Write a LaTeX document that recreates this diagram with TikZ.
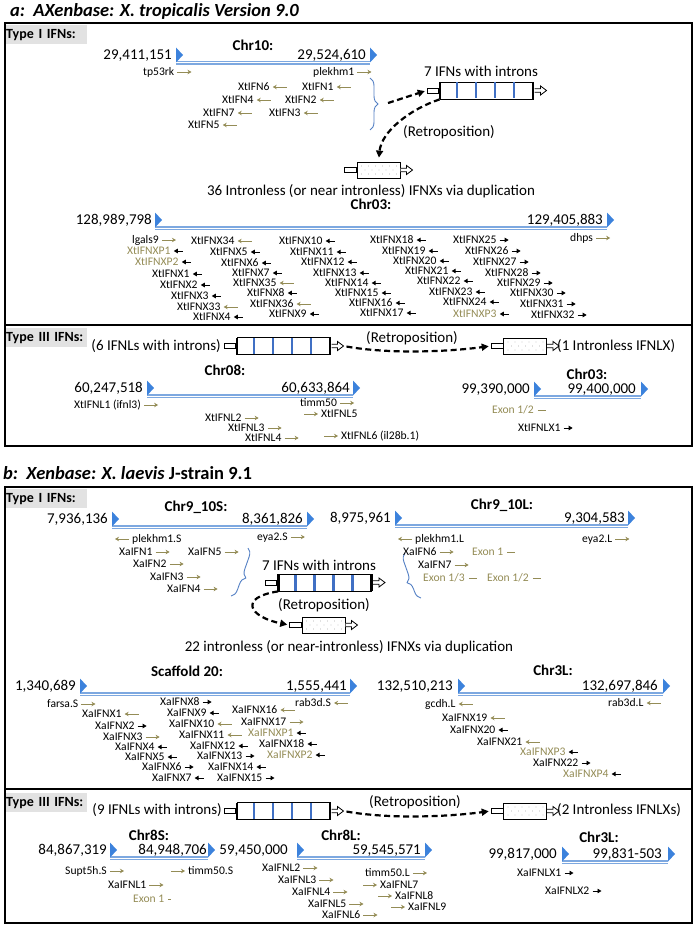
\documentclass[tikz,border=0pt]{standalone}
\usepackage{fontspec}
\setmainfont{Carlito}
\usetikzlibrary{arrows.meta,decorations.pathreplacing}

\definecolor{triblue}{RGB}{60,130,220}
\definecolor{chrblue}{RGB}{125,168,224}
\definecolor{olivegene}{RGB}{148,140,86}
\definecolor{stripeblue}{RGB}{64,112,196}
\definecolor{braceblue}{RGB}{84,128,196}
\definecolor{labelgray}{RGB}{226,226,226}

\tikzset{
  chrtri/.pic={\fill[triblue] (0,-7.5) -- (7,0) -- (0,7.5) -- cycle;},
  intronbox/.pic={
    \node[draw,line width=0.8pt,fill=white,minimum width=93pt,minimum height=17pt,inner sep=0pt] (-box) at (0,0) {};
    \foreach \s in {-29.5,-10.5,8.5,27.5} \draw[stripeblue,line width=2.2pt] (\s,-8) -- (\s,8);
    \draw[line width=2.5pt] (-46.5,-8.5) -- (-46.5,8.5) (46.5,-8.5) -- (46.5,8.5);
    \node[draw,line width=0.8pt,fill=white,minimum width=11pt,minimum height=5pt,inner sep=0pt,anchor=east] (-prom) at (-48,0) {};
    \draw[line width=0.8pt,fill=white] (48,-1.8) -- (54,-1.8) -- (54,-4.5) -- (60,0) -- (54,4.5) -- (54,1.8) -- (48,1.8);
    \coordinate (-tip) at (60,0);
  },
  plainbox/.pic={
    \node[draw,line width=0.8pt,fill=white,minimum width=43pt,minimum height=16pt,inner sep=0pt] (-box) at (0,0) {};
    \foreach \i in {-17,-10,...,18} \foreach \j in {-4,4} \fill[gray] (\i,\j) circle (0.45pt);
    \foreach \i in {-13.5,-6.5,...,15} \fill[gray] (\i,0) circle (0.45pt);
    \node[draw,line width=0.8pt,fill=white,minimum width=12pt,minimum height=5pt,inner sep=0pt,anchor=east] (-prom) at (-21.5,0) {};
    \draw[line width=0.8pt,fill=white] (22,-1.8) -- (28,-1.8) -- (28,-4.5) -- (34,0) -- (28,4.5) -- (28,1.8) -- (22,1.8);
    \coordinate (-tip) at (34,0);
  }
}

\begin{document}
\begin{tikzpicture}
[x=1pt,y=-1pt,
 gene/.style={font=\fontsize{11.6}{12}\selectfont,inner sep=0pt,anchor=west,text height=7.6pt,text depth=0pt},
 num/.style={font=\fontsize{15}{16}\selectfont,inner sep=0pt,anchor=east,text height=9.5pt,text depth=0pt},
 chrname/.style={font=\fontsize{15}{16}\selectfont\bfseries,inner sep=0pt,text height=9.5pt,text depth=0pt},
 note/.style={font=\fontsize{15}{16}\selectfont,inner sep=0pt,text height=9.5pt,text depth=2.5pt},
 typelbl/.style={fill=labelgray,font=\fontsize{14}{15}\selectfont\bfseries,anchor=north west,minimum height=19pt,text width=80pt,inner xsep=1pt,inner ysep=0pt},
 titletxt/.style={font=\fontsize{18.5}{20}\selectfont\bfseries\itshape,inner sep=0pt,anchor=west},
 chrline/.style={draw=chrblue,line width=1.1pt,double=white,double distance=1pt},
 oleft/.style={draw=olivegene,line width=0.9pt,{Stealth[length=4pt,width=4.5pt]}-,shorten <=3pt},
 oright/.style={draw=olivegene,line width=0.9pt,-{Stealth[length=4pt,width=4.5pt]},shorten <=3pt},
 bleft/.style={draw=black,line width=0.9pt,{Triangle[length=4pt,width=4.5pt]}-,shorten <=3pt,shorten >=5pt},
 bright/.style={draw=black,line width=0.9pt,-{Triangle[length=4pt,width=4.5pt]},shorten <=3pt,shorten >=5pt},
 odash/.style={draw=olivegene,line width=1pt,shorten <=4pt,shorten >=5pt},
 retro/.style={line width=2.2pt,dash pattern=on 6pt off 3.5pt,-{Triangle[length=7pt,width=7pt]}},
 bluebrace/.style={draw=braceblue,line width=0.9pt,decorate,decoration={brace,amplitude=8pt}},
 boxline/.style={line width=2pt}]
\useasboundingbox (0,0) rectangle (697,928);

% titles and type labels
\node[titletxt] (titleA) at (10,11) {a:\ \ AXenbase: X. tropicalis Version 9.0};
\node[titletxt] (titleB) at (3,473) {b:\ \ Xenbase: X. laevis {\upshape J-strain 9.1}};
\node[typelbl] (t1a) at (5,25) {Type I IFNs:};
\node[typelbl] (t3a) at (5,328) {Type III IFNs:};
\node[typelbl] (t1b) at (5,489) {Type I IFNs:};
\node[typelbl] (t3b) at (5,793) {Type III IFNs:};

% chromosomes
\foreach \c/\xl/\xr/\y in {c10/176/370/55, c03/155/607/220, c08/147/353/388, c03b/534/641/389,
  c910s/112/307/519, c910l/395/628/518, sc20/80/350/686, c3l/458/663/686,
  c8s/110/208/850, c8l/297/425/850, c3lb/562/668/854}{
  \coordinate (\c-a) at (\xl,\y+8);
  \coordinate (\c-b) at (\xr,\y+8);
  \draw[chrline] (\c-a) -- (\c-b);
  \pic at (\xl,\y) {chrtri};
  \pic at (\xr,\y) {chrtri};
}
\node[chrname] (n10) at (253,46) {Chr10:};
\node[num] (c10-lo) at (172,55) {29,411,151};
\node[num] (c10-hi) at (366,55) {29,524,610};
\node[chrname] (n03) at (371,205) {Chr03:};
\node[num] (c03-lo) at (152,220) {128,989,798};
\node[num] (c03-hi) at (603,220) {129,405,883};
\node[chrname] (n08) at (225,371) {Chr08:};
\node[num] (c08-lo) at (143,388) {60,247,518};
\node[num] (c08-hi) at (350,388) {60,633,864};
\node[chrname] (n03b) at (587,375) {Chr03:};
\node[num] (c03b-lo) at (530,389) {99,390,000};
\node[num] (c03b-hi) at (636,389) {99,400,000};
\node[chrname] (n910s) at (196,507) {Chr9\_10S:};
\node[num] (c910s-lo) at (108,519) {7,936,136};
\node[num] (c910s-hi) at (303,519) {8,361,826};
\node[chrname] (n910l) at (502,505) {Chr9\_10L:};
\node[num] (c910l-lo) at (391,518) {8,975,961};
\node[num] (c910l-hi) at (625,518) {9,304,583};
\node[chrname] (nsc20) at (187,672) {Scaffold 20:};
\node[num] (sc20-lo) at (76,686) {1,340,689};
\node[num] (sc20-hi) at (347,686) {1,555,441};
\node[chrname] (n3l) at (553,671) {Chr3L:};
\node[num] (c3l-lo) at (453,686) {132,510,213};
\node[num] (c3l-hi) at (658,686) {132,697,846};
\node[chrname] (n8s) at (149,836) {Chr8S:};
\node[num] (c8s-lo) at (107,850) {84,867,319};
\node[num] (c8s-hi) at (207,850) {84,948,706};
\node[chrname] (n8l) at (341,836) {Chr8L:};
\node[num] (c8l-lo) at (288,850) {59,450,000};
\node[num] (c8l-hi) at (421,850) {59,545,571};
\node[chrname] (n3lb) at (599,838) {Chr3L:};
\node[num] (c3lb-lo) at (557,854) {99,817,000};
\node[num] (c3lb-hi) at (662,854) {99,831-503};

% gene boxes
\pic (gA) at (486.5,90.5) {intronbox};
\pic (iA) at (378.5,170) {plainbox};
\pic (gB) at (283.5,346) {intronbox};
\pic (iB) at (525,346) {plainbox};
\pic (gC) at (325,582.5) {intronbox};
\pic (iC) at (323.5,625) {plainbox};
\pic (gD) at (283.5,811) {intronbox};
\pic (iD) at (525,811) {plainbox};

\node[note] (n7a) at (481,73) {7 IFNs with introns};
\node[note] (retA) at (449,133) {(Retroposition)};
\node[note] (dupA) at (371,192) {36 Intronless (or near intronless) IFNXs via duplication};
\node[note,anchor=east] (l6a) at (221,347) {(6 IFNLs with introns)};
\node[note] (retB) at (412,339) {(Retroposition)};
\node[note,anchor=west] (l1a) at (557,347) {(1 Intronless IFNLX)};
\node[note] (n7b) at (319,567) {7 IFNs with introns};
\node[note] (retC) at (324,606) {(Retroposition)};
\node[note] (dupB) at (349,648) {22 intronless (or near-intronless) IFNXs via duplication};
\node[note,anchor=east] (l9b) at (222,811) {(9 IFNLs with introns)};
\node[note] (retD) at (415,803) {(Retroposition)};
\node[note,anchor=west] (l2b) at (557,811) {(2 Intronless IFNLXs)};

% braces and retroposition arrows
\coordinate (btA) at (370,78);
\coordinate (bbA) at (370,130);
\coordinate (bmA) at (388,103);
\draw[bluebrace] (btA) -- (bbA);
\coordinate (btC) at (248,548);
\coordinate (bbC) at (231,596);
\draw[bluebrace,decoration={aspect=0.57}] (btC) -- (bbC);
\coordinate (btL) at (405,553);
\coordinate (bbL) at (421,598);
\draw[bluebrace,decoration={aspect=0.4}] (bbL) -- (btL);
\draw[retro,shorten >=2pt] (bmA) -- (gA-prom.west);
\draw[retro,shorten >=4pt] (gA-box.south west) .. controls +(-30,10) and +(3,-30) .. (iA-box.north);
\draw[retro,shorten <=3pt,shorten >=2pt] (gB-tip) .. controls +(45,8) and +(-45,6) .. (iB-prom.west);
\draw[retro,shorten >=2pt] (gC-box.south west) .. controls +(-40,6) and +(-40,-8) .. (iC-prom.west);
\draw[retro,shorten <=3pt,shorten >=2pt] (gD-tip) .. controls +(45,8) and +(-45,6) .. (iD-prom.west);

% genes with the arrow after the name
\foreach \g/\x/\y/\tc/\ac in {
  tp53rk/143/72/black/oright, XtIFN6/238/87/black/oleft, XtIFN1/302/87/black/oleft,
  XtIFN4/222/100/black/oleft, XtIFN2/285/100/black/oleft, XtIFN7/203/113/black/oleft,
  XtIFN3/269/113/black/oleft, XtIFN5/188/125/black/oleft,
  lgals9/132/240/black/oright, XtIFNXP1/127/251/olivegene/bleft, XtIFNXP2/135/262/olivegene/bleft,
  XtIFNX1/152/274/black/bleft, XtIFNX2/160/285/black/bleft, XtIFNX3/171/296/black/bleft,
  XtIFNX33/177/307/black/oleft, XtIFNX4/193/317/black/bleft,
  XtIFNX34/191/241/black/oleft, XtIFNX5/210/252/black/bleft, XtIFNX6/221/263/black/bleft,
  XtIFNX7/232/273/black/bleft, XtIFNX35/233/283/black/oleft, XtIFNX8/247/293/black/bleft,
  XtIFNX36/250/304/black/oleft, XtIFNX9/269/314/black/bleft,
  XtIFNX10/279/241/black/bleft, XtIFNX11/290/252/black/bleft, XtIFNX12/301/262/black/bleft,
  XtIFNX13/313/273/black/bleft, XtIFNX14/325/283/black/bleft, XtIFNX15/335/293/black/bleft,
  XtIFNX16/349/303/black/bleft, XtIFNX17/360/313/black/bleft,
  XtIFNX18/370/240/black/bleft, XtIFNX19/382/251/black/bleft, XtIFNX20/393/261/black/bleft,
  XtIFNX21/405/271/black/bleft, XtIFNX22/417/281/black/bleft, XtIFNX23/429/292/black/bleft,
  XtIFNX24/443/302/black/bleft, XtIFNXP3/453/314/olivegene/bleft,
  XtIFNX25/453/240/black/bright, XtIFNX26/465/251/black/bright, XtIFNX27/473/262/black/bright,
  XtIFNX28/485/273/black/bright, XtIFNX29/497/283/black/bright, XtIFNX30/510/293/black/bright,
  XtIFNX31/520/304/black/bright, XtIFNX32/531/315/black/bright, dhps/570/238/black/oright,
  XtIFNL2/205/418/black/oright, XtIFNL3/228/428/black/oright, XtIFNL4/245/438/black/oright,
  XtIFNLX1/518/428/black/bright,
  XaIFN1/119/552/black/oright, XaIFN5/188/552/black/oright, XaIFN2/133/564/black/oright,
  XaIFN3/150/577/black/oright, XaIFN4/167/589/black/oright,
  XaIFN6/403/552/black/oright, XaIFN7/418/565/black/oright,
  XaIFNX1/82/714/black/oleft, XaIFNX2/95/726/black/bright, XaIFNX3/103/737/black/oright,
  XaIFNX4/115/747/black/bleft, XaIFNX5/125/757/black/bleft, XaIFNX6/142/767/black/bright,
  XaIFNX7/152/778/black/bleft,
  XaIFNX8/160/702/black/bright, XaIFNX9/167/713/black/bleft, XaIFNX10/169/724/black/oleft,
  XaIFNX11/179/735/black/oleft, XaIFNX12/190/746/black/bleft, XaIFNX13/197/756/black/bright,
  XaIFNX14/208/767/black/bleft, XaIFNX15/217/778/black/bright,
  XaIFNX16/232/710/black/oleft, XaIFNX17/241/722/black/oright, XaIFNXP1/248/733/olivegene/bleft,
  XaIFNX18/259/744/black/bleft, XaIFNXP2/267/755/olivegene/bleft,
  XaIFNX19/442/718/black/oleft, XaIFNX20/450/730/black/bleft, XaIFNX21/477/742/black/oleft,
  XaIFNXP3/520/752/olivegene/bleft, XaIFNX22/533/763/black/bright, XaIFNXP4/563/774/olivegene/bleft,
  XaIFNL1/108/885/black/oright, XaIFNL2/262/868/black/oright, XaIFNL3/278/880/black/oright,
  XaIFNL4/292/892/black/oright, XaIFNL5/308/904/black/oright, XaIFNL6/322/915/black/oright,
  XaIFNLX1/517/873/black/bright, XaIFNLX2/545/891/black/bright}{
  \node[gene,text=\tc] (\g) at (\x,\y) {\g};
  \draw[\ac] (\g.east) -- ++(17,0);
}
% genes with the arrow before the name
\foreach \g/\x/\y in {XtIFNL5/321/414, XaIFNL7/380/885, XaIFNL8/395/896, XaIFNL9/408/907}{
  \node[gene] (\g) at (\x,\y) {\g};
  \draw[oleft] (\g.west) -- ++(-17,0);
}
\node[gene] (plekA) at (313,72) {plekhm1};
\draw[oright] (plekA.east) -- ++(17,0);
\node[gene] (ifnl1A) at (74,405) {XtIFNL1 (ifnl3)};
\draw[oright] (ifnl1A.east) -- ++(17,0);
\node[gene] (timmA) at (300,403) {timm50};
\draw[oright] (timmA.east) -- ++(17,0);
\node[gene] (ifnl6A) at (341,436) {XtIFNL6 (il28b.1)};
\draw[oleft] (ifnl6A.west) -- ++(-17,0);
\node[gene] (plekS) at (132,539) {plekhm1.S};
\draw[oright] (plekS.west) -- ++(-17,0);
\node[gene] (eyaS) at (257,537) {eya2.S};
\draw[oright] (eyaS.east) -- ++(17,0);
\node[gene] (plekL) at (415,539) {plekhm1.L};
\draw[oright] (plekL.west) -- ++(-17,0);
\node[gene] (eyaL) at (582,539) {eya2.L};
\draw[oright] (eyaL.east) -- ++(17,0);
\node[gene] (farsaS) at (47,704) {farsa.S};
\draw[oright] (farsaS.east) -- ++(17,0);
\node[gene] (rabS) at (295,703) {rab3d.S};
\draw[oleft] (rabS.east) -- ++(17,0);
\node[gene] (gcdhL) at (425,704) {gcdh.L};
\draw[oleft] (gcdhL.east) -- ++(17,0);
\node[gene] (rabL) at (608,703) {rab3d.L};
\draw[oleft] (rabL.east) -- ++(17,0);
\node[gene] (suptS) at (65,871) {Supt5h.S};
\draw[oright] (suptS.east) -- ++(17,0);
\node[gene] (timmS) at (188,871) {timm50.S};
\draw[oleft] (timmS.west) -- ++(-17,0);
\node[gene] (timmL) at (365,873) {timm50.L};
\draw[oright] (timmL.east) -- ++(17,0);
% exon fragments
\node[gene,text=olivegene] (exA) at (492,410) {Exon 1/2};
\draw[odash] (exA.east) -- ++(17,0);
\node[gene,text=olivegene] (ex1L) at (472,552) {Exon 1};
\draw[odash] (ex1L.east) -- ++(17,0);
\node[gene,text=olivegene] (ex13L) at (423,578) {Exon 1/3};
\draw[odash] (ex13L.east) -- ++(17,0);
\node[gene,text=olivegene] (ex12L) at (487,578) {Exon 1/2};
\draw[odash] (ex12L.east) -- ++(17,0);
\node[gene,text=olivegene] (ex1S) at (133,899) {Exon 1};
\draw[odash,shorten >=10pt] (ex1S.east) -- ++(17,0);

% frames
\draw[boxline] (5,23) rectangle (692,446);
\draw[boxline] (5,325) -- (692,325);
\draw[boxline] (5,487) rectangle (692,923);
\draw[boxline] (5,789) -- (692,789);
\end{tikzpicture}
\end{document}
